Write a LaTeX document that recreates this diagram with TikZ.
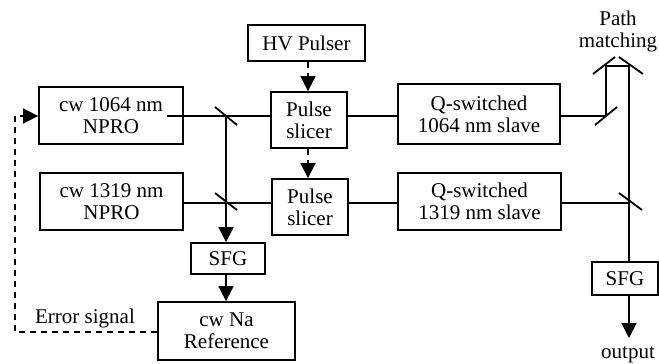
\documentclass[tikz,border=0pt]{standalone}
\usepackage{fontspec}
\setmainfont{Liberation Serif}
\usetikzlibrary{arrows.meta,calc}
\begin{document}
\begin{tikzpicture}[x=1pt,y=1pt,
  line width=1.8pt,
  every node/.style={font=\fontsize{21}{22}\selectfont, inner sep=0pt, align=center},
  blk/.style={draw, line width=1.8pt},
  beam/.style={line width=1.8pt},
  tip/.style={-{Triangle[length=15pt,width=15pt]}},
  dsh/.style={dash pattern=on 6pt off 5pt},
  mir/.style={line width=1.8pt}]
\useasboundingbox (0,0) rectangle (659,-364);
% blocks
\node[blk, minimum width=144pt, minimum height=57pt] (npro1) at (111,-115.5) {cw 1064 nm\\NPRO};
\node[blk, minimum width=143pt, minimum height=57pt] (npro2) at (111.5,-201.5) {cw 1319 nm\\NPRO};
\node[blk, minimum width=117pt, minimum height=36pt] (hv) at (306.5,-43) {HV Pulser};
\node[blk, minimum width=76pt, minimum height=56pt] (ps1) at (309,-120) {Pulse\\slicer};
\node[blk, minimum width=76pt, minimum height=56pt] (ps2) at (310,-207) {Pulse\\slicer};
\node[blk, minimum width=162pt, minimum height=60pt] (q1) at (479,-114) {Q-switched\\1064 nm slave};
\node[blk, minimum width=163pt, minimum height=57pt] (q2) at (479.5,-201.5) {Q-switched\\1319 nm slave};
\node[blk, minimum width=74pt, minimum height=31pt] (sfg1) at (228,-258.5) {SFG};
\node[blk, minimum width=137pt, minimum height=58pt] (ref) at (226.5,-331) {cw Na\\Reference};
\node[blk, minimum width=66pt, minimum height=33pt] (sfg2) at (625,-278.5) {SFG};
% labels
\node (pm) at (618,-31) {\fontsize{21}{24}\selectfont Path\\matching};
\node (err) at (85,-318) {Error signal};
\node (out) at (628,-355) {output};
% coordinates
\coordinate (s1) at (167,-116);
\coordinate (m1) at (226,-116);
\coordinate (m2) at (226,-203);
\coordinate (m3) at (629,-203);
\coordinate (m4) at (606,-116);
\coordinate (r1) at (606,-66);
\coordinate (r2) at (629,-66);
\coordinate (fb) at (15,-116);
\coordinate (o) at (629,-338);
% beams
\draw[beam] (s1) -- (ps1.west |- s1);
\draw[beam] (ps1.east |- s1) -- (q1.west |- s1);
\draw[beam] (q1.east |- m4) -- (m4) -- (r1) -- (r2) -- (sfg2.north -| r2);
\draw[beam] (npro2.east |- m2) -- (ps2.west |- m2);
\draw[beam] (ps2.east |- m2) -- (q2.west |- m2);
\draw[beam] (q2.east |- m3) -- (m3);
\draw[beam, tip] (m1) -- (sfg1.north -| m1);
\draw[beam, tip] (sfg1.south -| m1) -- (ref.north -| m1);
\draw[beam, tip] (sfg2.south -| r2) -- (o);
% control
\draw[beam, dsh, tip] (hv.south -| 308,0) -- (ps1.north -| 308,0);
\draw[beam, dsh, tip] (ps1.south -| 308,0) -- (ps2.north -| 308,0);
\draw[beam, dsh, tip] (ref.west |- 0,-332) -| (fb) -- (npro1.west |- fb);
% mirrors
\draw[mir] ($(m1)+(-11,9)$) -- ($(m1)+(11,-9)$);
\draw[mir] ($(m2)+(-11,10)$) -- ($(m2)+(11,-7)$);
\draw[mir] ($(m3)+(-10,10)$) -- ($(m3)+(13,-7)$);
\draw[mir] ($(m4)+(-11,-9)$) -- ($(m4)+(11,9)$);
\draw[mir] (593,-74) -- (615,-57);
\draw[mir] (619,-57) -- (643,-74);
\end{tikzpicture}
\end{document}
